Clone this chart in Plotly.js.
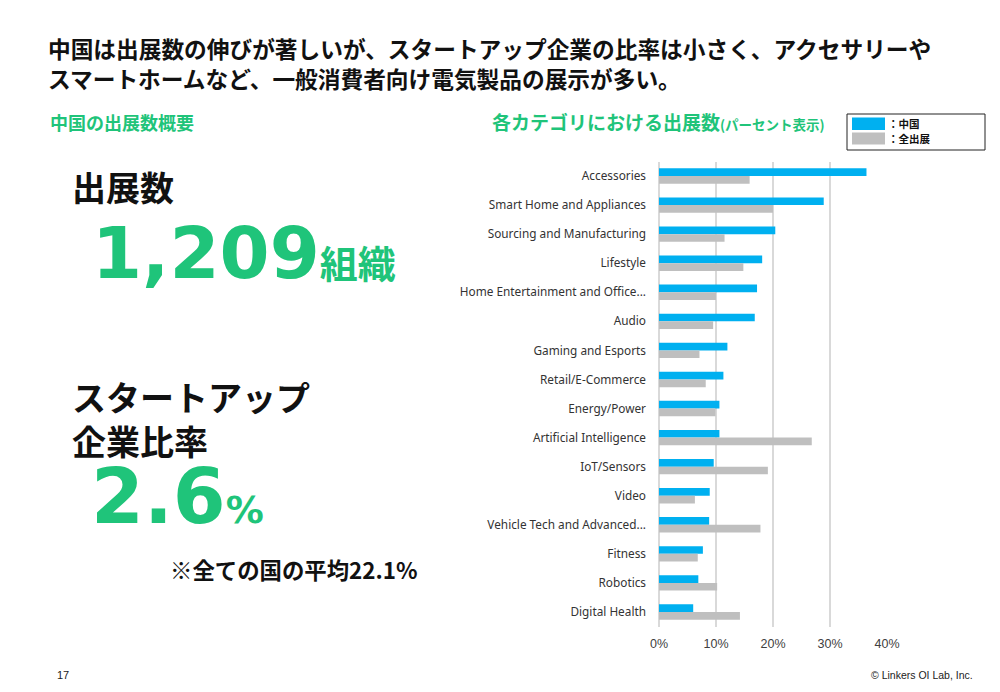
<!DOCTYPE html>
<html>
<head>
<meta charset="utf-8">
<script src="https://cdn.plot.ly/plotly-3.0.1.min.js"></script>
<style>
html,body{margin:0;padding:0;background:#fff;}
#chart{width:1000px;height:692px;}
</style>
</head>
<body>
<div id="chart"></div>
<script>
// ---- data ----
const categories = [
  "Accessories",
  "Smart Home and Appliances",
  "Sourcing and Manufacturing",
  "Lifestyle",
  "Home Entertainment and Office...",
  "Audio",
  "Gaming and Esports",
  "Retail/E-Commerce",
  "Energy/Power",
  "Artificial Intelligence",
  "IoT/Sensors",
  "Video",
  "Vehicle Tech and Advanced...",
  "Fitness",
  "Robotics",
  "Digital Health"
];
const chinaPct = [36.4, 28.9, 20.4, 18.1, 17.2, 16.8, 12.0, 11.3, 10.6, 10.6, 9.6, 8.9, 8.8, 7.7, 6.9, 6.0];
const allPct   = [15.9, 20.0, 11.5, 14.8, 10.0, 9.5, 7.1, 8.2, 9.9, 26.8, 19.1, 6.3, 17.8, 6.8, 10.2, 14.2];
const seriesNames = ["：中国", "：全出展"];
const xTickVals = [0, 10, 20, 30, 40];
const xTickText = xTickVals.map(v => v + "%");

// ---- styling ----
const W = 1000, H = 692;
const px = x => x / W;
const py = y => 1 - y / H;
const GREEN = "#1fc47a";
const BLUE = "#00b0f0";
const GRAY = "#bfbfbf";
const JP = "Noto Sans CJK JP";

const traces = [
  {type: "bar", orientation: "h", name: seriesNames[0], y: categories, x: chinaPct,
   marker: {color: BLUE}, hoverinfo: "x+y"},
  {type: "bar", orientation: "h", name: seriesNames[1], y: categories, x: allPct,
   marker: {color: GRAY}, hoverinfo: "x+y"}
];

function txt(text, x, y, size, color, opts) {
  return Object.assign({
    text: text, x: px(x), y: py(y), xref: "paper", yref: "paper",
    xanchor: "left", yanchor: "middle", showarrow: false, align: "left",
    font: {family: JP, size: size, color: color}
  }, opts || {});
}

const annotations = [
  txt("<b>中国は出展数の伸びが著しいが、スタートアップ企業の比率は小さく、アクセサリーや<br>スマートホームなど、一般消費者向け電気製品の展示が多い。</b>", 46, 63.5, 22.7, "#111"),
  txt("<b>中国の出展数概要</b>", 48, 122, 18, GREEN),
  txt("<b>各カテゴリにおける出展数</b><span style='font-size:13.5px'><b>(パーセント表示)</b></span>", 490, 122, 19, GREEN),
  txt("<b>出展数</b>", 70, 186, 34, "#111"),
  txt("<b>1,209</b><span style='font-family:\"Noto Sans CJK JP\";font-size:38px'><b>組織</b></span>", 90, 253, 72, GREEN,
      {font: {family: "DejaVu Sans", size: 72, color: GREEN}}),
  txt("<b>スタートアップ<br>企業比率</b>", 70, 418.5, 34, "#111"),
  txt("<b>2.6</b><span style='font-size:38px'><b>%</b></span>", 89, 496, 76, GREEN,
      {font: {family: "DejaVu Sans", size: 76, color: GREEN}}),
  txt("<b>※全ての国の平均22.1%</b>", 168, 569, 22.4, "#111"),
  txt("<b>" + seriesNames[0] + "</b>", 886, 124, 10.5, "#111"),
  txt("<b>" + seriesNames[1] + "</b>", 886, 138, 10.5, "#111"),
  txt("17", 55, 675, 11, "#222", {font: {family: "Liberation Sans", size: 11, color: "#222"}}),
  txt("© Linkers OI Lab, Inc.", 975, 675, 11, "#222", {xanchor: "right", font: {family: "Liberation Sans", size: 10.5, color: "#222"}})
];

const shapes = [
  {type: "rect", xref: "paper", yref: "paper", x0: px(847), x1: px(985), y0: py(114), y1: py(150),
   line: {color: "#222", width: 1}, fillcolor: "rgba(0,0,0,0)"},
  {type: "rect", xref: "paper", yref: "paper", x0: px(852), x1: px(885), y0: py(117.5), y1: py(130),
   line: {width: 0}, fillcolor: BLUE},
  {type: "rect", xref: "paper", yref: "paper", x0: px(852), x1: px(885), y0: py(132.5), y1: py(144.5),
   line: {width: 0}, fillcolor: GRAY}
];

const layout = {
  width: W, height: H,
  margin: {l: 0, r: 0, t: 0, b: 0},
  paper_bgcolor: "#fff", plot_bgcolor: "#fff",
  showlegend: false,
  barmode: "group",
  bargap: 0.47,
  bargroupgap: 0,
  xaxis: {
    domain: [px(659), px(887)],
    range: [0, 40],
    tickmode: "array",
    tickvals: xTickVals,
    ticktext: xTickText,
    showgrid: true, gridcolor: "#d9d9d9", gridwidth: 1.3,
    zeroline: true, zerolinecolor: "#d9d9d9", zerolinewidth: 1.3,
    showline: false, ticks: "",
    ticklabelstandoff: 8,
    tickfont: {family: "Liberation Sans", size: 12.5, color: "#404040"},
    fixedrange: true
  },
  yaxis: {
    domain: [py(626.5), py(161.5)],
    type: "category",
    autorange: "reversed",
    showgrid: false, zeroline: false, showline: false, ticks: "",
    ticklabelstandoff: 12,
    tickfont: {family: "Noto Sans", size: 11.8, color: "#333"},
    fixedrange: true
  },
  annotations: annotations,
  shapes: shapes
};

Plotly.newPlot("chart", traces, layout, {displayModeBar: false, staticPlot: true});
</script>
</body>
</html>
